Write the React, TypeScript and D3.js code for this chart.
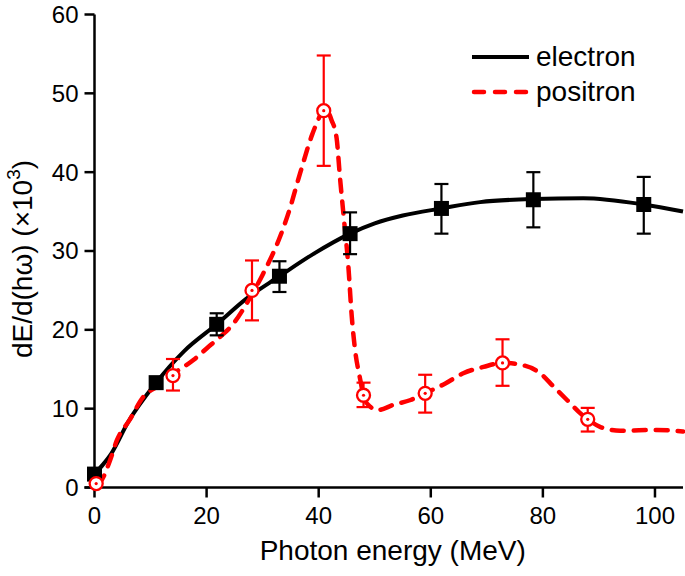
import React from "react";
import * as d3 from "d3";

// measured points: energy, value, error bar low / high
const electronX = [0, 11, 21.8, 33, 45.6, 61.9, 78.3, 98];
const electronY = [1.7, 13.3, 20.7, 26.8, 32.2, 35.4, 36.5, 35.9];
const electronLo = [null, null, 19.3, 24.8, 29.6, 32.2, 33.0, 32.2];
const electronHi = [null, null, 22.1, 28.7, 34.9, 38.5, 40.0, 39.4];

const positronX = [0.3, 14, 28.1, 40.9, 48, 59, 72.8, 88];
const positronY = [0.5, 14.2, 25, 47.8, 11.7, 11.95, 15.8, 8.65];
const positronLo = [null, 12.3, 21.2, 40.8, 10.2, 9.5, 12.9, 7.1];
const positronHi = [null, 16.3, 28.8, 54.8, 13.3, 14.3, 18.8, 10.1];

// fitted curves
const electronCurveX = [0, 1.5, 3, 6, 11, 16, 21.8, 27, 33, 39, 45.6, 50, 55, 61.9, 68.8, 78.3, 87.2, 98, 105];
const electronCurveY = [1.7, 2.9, 4.3, 8.3, 13.3, 17.3, 20.7, 23.9, 26.8, 29.6, 32.2, 33.5, 34.5, 35.4, 36.2, 36.6, 36.7, 35.9, 35.0];

const positronCurveX = [0.3, 1, 2.8, 4, 6.3, 8.7, 11.1, 14, 17.7, 20.1, 22.4, 24.8, 27.2, 30, 33.1, 34.6, 36.7, 38.8, 40, 41, 42.3, 43.2, 43.8, 44.4, 45.3, 45.9, 46.5, 47.3, 48.2, 49.2, 50.4, 53.4, 56.4, 59, 62.6, 65.8, 69.4, 72.8, 76.5, 79.5, 81.9, 84.3, 86.4, 88, 90.2, 93.8, 100.3, 105];
const positronCurveY = [0.5, 0.7, 3.5, 6, 8.6, 11.5, 12.8, 14.4, 16.2, 17.7, 19.1, 20.8, 23.4, 27, 31.8, 34.8, 39.9, 44.7, 46.8, 48.2, 46.6, 44.3, 39.3, 34.8, 28, 21.7, 17.4, 14.1, 11.2, 10.25, 9.8, 10.5, 11.1, 11.95, 13.2, 14.5, 15.3, 15.8, 15.5, 14.5, 12.8, 11.1, 9.6, 8.65, 7.7, 7.2, 7.3, 7.1];

const xTicks = [0, 20, 40, 60, 80, 100];
const yTicks = [0, 10, 20, 30, 40, 50, 60];

const W = 685;
const H = 576;
const left = 94.5;
const right = 683;
const top = 14.5;
const bottom = 487.5;
const font = "'Liberation Sans', Arial, sans-serif";
const red = "#ff0000";

export default function App() {
  const x = d3.scaleLinear().domain([0, 105]).range([left, right]);
  const y = d3.scaleLinear().domain([0, 60]).range([bottom, top]);

  const line = d3
    .line<[number, number]>()
    .x((d) => x(d[0]))
    .y((d) => y(d[1]))
    .curve(d3.curveMonotoneX);

  const ePath = line(electronCurveX.map((v, i) => [v, electronCurveY[i]]) as [number, number][]);
  const pPath = line(positronCurveX.map((v, i) => [v, positronCurveY[i]]) as [number, number][]);

  const cap = 7;

  return (
    <div style={{ position: "absolute", left: 0, top: 0 }}>
      <svg width={W} height={H} style={{ display: "block", background: "#fff" }}>
        {/* axes */}
        <line x1={x(0)} x2={x(0)} y1={y(60)} y2={y(0)} stroke="#000" strokeWidth={2.5} />
        <line x1={x(0) - 10} x2={right} y1={y(0)} y2={y(0)} stroke="#000" strokeWidth={2.5} />
        {yTicks.map((t) => (
          <g key={"y" + t}>
            <line x1={x(0) - 10} x2={x(0)} y1={y(t)} y2={y(t)} stroke="#000" strokeWidth={2.5} />
            <text x={x(0) - 16} y={y(t)} dy="0.35em" textAnchor="end" fontFamily={font} fontSize={24}>
              {t}
            </text>
          </g>
        ))}
        {xTicks.map((t) => (
          <g key={"x" + t}>
            <line x1={x(t)} x2={x(t)} y1={y(0)} y2={y(0) + 10} stroke="#000" strokeWidth={2.5} />
            <text x={x(t)} y={524} textAnchor="middle" fontFamily={font} fontSize={24}>
              {t}
            </text>
          </g>
        ))}
        <text x={(left + right) / 2 + 4} y={560} textAnchor="middle" fontFamily={font} fontSize={28}>
          Photon energy (MeV)
        </text>
        <text
          transform={`translate(32, ${(top + bottom) / 2 + 8}) rotate(-90)`}
          textAnchor="middle"
          fontFamily={font}
          fontSize={28}
        >
          dE/d(hω) (×10<tspan dy={-12} fontSize={19}>3</tspan>
          <tspan dy={12}>)</tspan>
        </text>

        {/* curves */}
        <path d={ePath || ""} fill="none" stroke="#000" strokeWidth={4} />
        <path
          d={pPath || ""}
          fill="none"
          stroke={red}
          strokeWidth={4.5}
          strokeDasharray="12,10"
          strokeLinecap="round"
        />

        {/* electron markers */}
        {electronX.map((v, i) => {
          const lo = electronLo[i];
          const hi = electronHi[i];
          return (
            <g key={"e" + i}>
              {lo != null && hi != null && (
                <g stroke="#000" strokeWidth={2.2}>
                  <line x1={x(v)} x2={x(v)} y1={y(lo)} y2={y(hi)} />
                  <line x1={x(v) - cap} x2={x(v) + cap} y1={y(lo)} y2={y(lo)} />
                  <line x1={x(v) - cap} x2={x(v) + cap} y1={y(hi)} y2={y(hi)} />
                </g>
              )}
              <rect x={x(v) - 7.5} y={y(electronY[i]) - 7.5} width={15} height={15} fill="#000" />
            </g>
          );
        })}

        {/* positron markers */}
        {positronX.map((v, i) => {
          const lo = positronLo[i];
          const hi = positronHi[i];
          const cy = y(positronY[i]);
          return (
            <g key={"p" + i}>
              {lo != null && hi != null && (
                <g stroke={red} strokeWidth={2.2}>
                  <line x1={x(v)} x2={x(v)} y1={y(lo)} y2={cy + 7} />
                  <line x1={x(v)} x2={x(v)} y1={cy - 7} y2={y(hi)} />
                  <line x1={x(v) - cap} x2={x(v) + cap} y1={y(lo)} y2={y(lo)} />
                  <line x1={x(v) - cap} x2={x(v) + cap} y1={y(hi)} y2={y(hi)} />
                </g>
              )}
              <circle cx={x(v)} cy={cy} r={6.5} fill="#fff" stroke={red} strokeWidth={2.3} />
              <circle cx={x(v)} cy={cy} r={1.6} fill={red} />
            </g>
          );
        })}

        {/* legend */}
        <line x1={472} x2={529} y1={57} y2={57} stroke="#000" strokeWidth={4} />
        <text x={536} y={66} fontFamily={font} fontSize={28}>
          electron
        </text>
        <line
          x1={474}
          x2={527}
          y1={92}
          y2={92}
          stroke={red}
          strokeWidth={4.5}
          strokeDasharray="10,11"
          strokeLinecap="round"
        />
        <text x={536} y={101} fontFamily={font} fontSize={28}>
          positron
        </text>
      </svg>
    </div>
  );
}
